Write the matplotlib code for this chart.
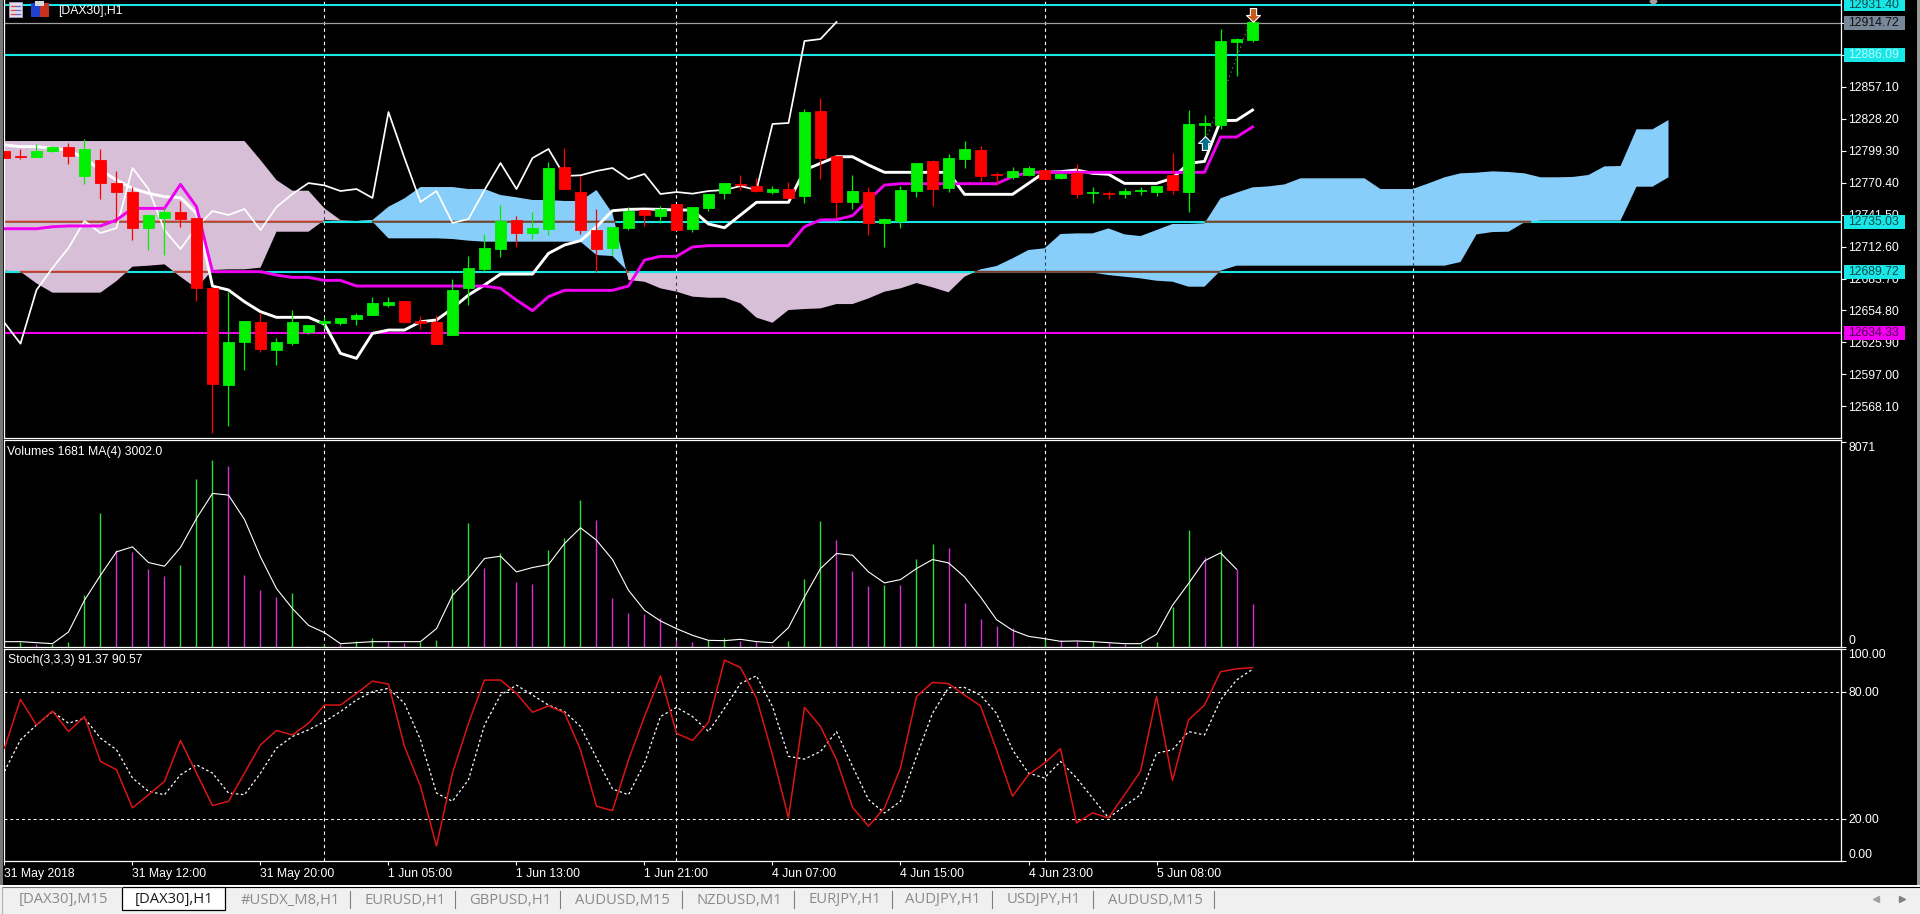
import numpy as np
import matplotlib
matplotlib.use("Agg")
import matplotlib.pyplot as plt
from matplotlib.patches import Rectangle
from matplotlib.path import Path

opens = [12799.0, 12794.1, 12793.8, 12799.3, 12802.6, 12776.7, 12790.5, 12770.0, 12761.9, 12729.6,
         12738.4, 12743.8, 12738.4, 12674.8, 12587.4, 12626.6, 12644.3, 12619.0, 12625.7, 12635.3,
         12643.7, 12643.4, 12646.8, 12650.7, 12659.7, 12663.3, 12645.3, 12644.3, 12632.9, 12675.4,
         12692.3, 12710.4, 12736.6, 12724.8, 12728.4, 12784.5, 12761.9, 12727.5, 12711.3, 12729.3,
         12745.6, 12740.2, 12751.0, 12728.4, 12747.4, 12761.0, 12768.8, 12767.3, 12762.2, 12764.6,
         12758.3, 12835.1, 12794.4, 12752.9, 12761.9, 12733.9, 12735.7, 12762.8, 12789.9, 12765.5,
         12791.7, 12799.9, 12777.9, 12775.5, 12777.3, 12781.8, 12774.6, 12779.1, 12761.0, 12761.3,
         12760.1, 12762.8, 12761.9, 12777.3, 12761.9, 12822.5, 12822.5, 12897.5, 12899.3]
highs = [12799.0, 12800.5, 12805.0, 12803.8, 12805.9, 12809.5, 12800.8, 12780.9, 12766.1, 12741.1,
         12747.1, 12753.8, 12738.4, 12674.8, 12671.8, 12645.0, 12652.8, 12629.6, 12655.2, 12641.6,
         12649.2, 12648.3, 12652.2, 12666.6, 12666.6, 12663.3, 12649.8, 12650.7, 12682.9, 12704.0,
         12723.9, 12750.1, 12740.2, 12744.1, 12788.7, 12801.7, 12776.4, 12746.5, 12730.2, 12748.6,
         12745.6, 12749.2, 12751.0, 12748.3, 12760.1, 12770.0, 12777.3, 12774.2, 12767.3, 12770.9,
         12836.9, 12846.9, 12794.4, 12777.3, 12766.4, 12738.4, 12767.3, 12788.1, 12790.8, 12796.3,
         12808.0, 12803.5, 12780.0, 12784.5, 12785.4, 12781.8, 12778.8, 12787.2, 12766.4, 12762.8,
         12765.5, 12766.4, 12767.3, 12796.9, 12836.0, 12831.5, 12909.3, 12901.1, 12926.5]
lows = [12792.9, 12792.0, 12793.5, 12798.1, 12787.2, 12769.4, 12755.6, 12736.6, 12718.8, 12709.5,
        12704.9, 12730.5, 12663.3, 12544.3, 12550.6, 12601.2, 12617.5, 12605.5, 12623.3, 12633.2,
        12638.6, 12641.6, 12641.6, 12650.7, 12658.2, 12643.7, 12637.7, 12624.8, 12632.9, 12659.7,
        12689.9, 12703.1, 12712.2, 12719.4, 12723.0, 12764.6, 12723.9, 12689.6, 12704.9, 12727.5,
        12731.2, 12733.6, 12727.5, 12726.0, 12744.7, 12755.6, 12763.7, 12762.2, 12760.1, 12756.5,
        12752.0, 12773.6, 12738.4, 12746.5, 12723.0, 12712.2, 12729.3, 12757.4, 12749.2, 12761.9,
        12783.6, 12771.8, 12768.2, 12773.6, 12776.4, 12773.6, 12773.6, 12756.5, 12752.0, 12755.6,
        12756.5, 12759.2, 12758.3, 12760.1, 12743.8, 12805.9, 12818.9, 12866.8, 12897.5]
closes = [12792.9, 12793.8, 12799.0, 12802.6, 12794.4, 12800.5, 12770.3, 12762.2, 12729.6, 12741.1,
          12743.8, 12737.5, 12674.8, 12588.3, 12626.3, 12645.0, 12619.9, 12626.3, 12644.3, 12641.6,
          12645.0, 12648.0, 12650.7, 12661.5, 12662.4, 12644.6, 12643.7, 12624.8, 12673.3, 12693.2,
          12711.3, 12735.7, 12724.8, 12729.3, 12783.6, 12764.6, 12727.5, 12710.4, 12730.2, 12744.7,
          12741.1, 12746.5, 12727.5, 12748.3, 12760.1, 12770.0, 12767.9, 12762.8, 12764.6, 12756.5,
          12834.2, 12792.6, 12752.9, 12762.8, 12733.9, 12737.5, 12763.7, 12788.1, 12764.6, 12792.6,
          12800.8, 12776.4, 12777.0, 12780.9, 12783.6, 12773.6, 12778.2, 12760.1, 12761.9, 12760.4,
          12762.8, 12763.7, 12767.3, 12763.7, 12823.4, 12824.3, 12898.4, 12900.2, 12915.6]

tenkan = [12804.4, 12802.9, 12802.9, 12801.4, 12799.9, 12792.3, 12781.8, 12772.7, 12765.2, 12760.7,
          12757.7, 12756.8, 12742.6, 12676.9, 12673.3, 12662.7, 12653.7, 12648.6, 12648.6, 12648.6,
          12642.5, 12616.0, 12611.5, 12634.1, 12637.1, 12637.1, 12644.6, 12646.2, 12656.7, 12668.8,
          12677.8, 12687.7, 12687.7, 12687.7, 12706.4, 12714.0, 12717.9, 12730.5, 12745.0, 12746.2,
          12746.5, 12746.2, 12745.6, 12745.6, 12733.0, 12729.6, 12741.1, 12752.6, 12752.6, 12752.6,
          12781.8, 12787.8, 12793.8, 12793.8, 12786.3, 12779.7, 12779.7, 12779.7, 12779.7, 12779.7,
          12759.8, 12759.8, 12759.8, 12759.8, 12769.7, 12779.7, 12780.3, 12781.8, 12778.8, 12777.9,
          12769.7, 12769.7, 12769.7, 12774.3, 12787.8, 12789.6, 12826.4, 12826.7, 12836.0]
kijun = [12728.7, 12728.7, 12728.7, 12730.5, 12731.2, 12731.2, 12731.2, 12736.6, 12747.1, 12747.1,
         12747.1, 12768.8, 12748.6, 12689.9, 12689.9, 12689.9, 12689.9, 12686.8, 12684.7, 12684.7,
         12682.0, 12682.0, 12676.9, 12676.9, 12676.9, 12676.9, 12676.9, 12676.9, 12676.9, 12676.9,
         12676.9, 12674.8, 12664.2, 12654.6, 12667.3, 12673.0, 12673.0, 12673.0, 12673.0, 12676.9,
         12700.4, 12703.7, 12703.7, 12712.2, 12713.4, 12713.4, 12713.4, 12713.4, 12713.4, 12713.4,
         12730.5, 12736.6, 12736.9, 12740.5, 12754.7, 12768.2, 12769.4, 12769.4, 12769.4, 12769.4,
         12769.4, 12769.4, 12769.4, 12775.8, 12779.7, 12779.7, 12779.7, 12779.7, 12779.7, 12779.7,
         12779.7, 12779.7, 12779.7, 12779.7, 12779.7, 12779.7, 12811.6, 12811.6, 12820.7]

span_a = [12690.8, 12689.9, 12679.3, 12670.9, 12670.9, 12670.9, 12670.9, 12681.4, 12694.4, 12695.3,
          12696.5, 12685.3, 12674.8, 12691.4, 12692.0, 12692.0, 12693.5, 12726.0, 12726.0, 12726.0,
          12736.6, 12736.0, 12736.0, 12736.6, 12748.6, 12756.2, 12766.4, 12766.4, 12766.4, 12764.6,
          12764.6, 12759.2, 12757.1, 12754.7, 12754.7, 12753.8, 12753.8, 12763.7, 12742.6, 12682.3,
          12680.8, 12674.8, 12671.8, 12667.3, 12666.3, 12666.3, 12661.2, 12648.3, 12643.7, 12655.2,
          12656.1, 12656.7, 12660.6, 12660.6, 12665.7, 12671.8, 12674.8, 12679.6, 12675.7, 12671.2,
          12685.3, 12692.0, 12695.0, 12701.9, 12709.5, 12711.0, 12723.9, 12724.5, 12724.5, 12729.0,
          12723.6, 12722.1, 12727.5, 12733.0, 12733.0, 12733.6, 12756.2, 12761.3, 12766.1, 12767.0,
          12768.8, 12774.3, 12774.3, 12774.3, 12774.3, 12774.3, 12764.6, 12764.6, 12764.6, 12769.7,
          12775.2, 12778.8, 12779.4, 12780.6, 12780.0, 12778.8, 12775.2, 12775.2, 12775.5, 12777.3,
          12785.1, 12785.4, 12818.6, 12818.6, 12827.0]
span_b = ([12808.0] * 16 + [12790.8, 12772.7, 12763.1, 12763.1, 12747.1, 12736.6, 12736.0, 12735.1]
          + [12720.0] * 4 + [12719.4, 12717.9] + [12717.0] * 7 + [12704.9, 12704.0]
          + [12689.6] * 29 + [12689.0, 12686.8, 12685.3, 12683.8, 12681.7, 12680.8, 12676.3, 12676.3, 12690.8]
          + [12695.3] * 14 + [12698.6, 12723.6, 12725.7, 12726.0, 12734.5]
          + [12736.0] * 6 + [12766.7, 12766.7, 12775.2])

volumes = [26, 197, 105, 131, 184, 2034, 5248, 3805, 3739, 3083, 2795, 3214, 6599, 7347, 7124, 2821,
           2230, 1968, 2112, 26, 131, 131, 223, 341, 197, 157, 197, 262, 2270, 4881, 3109, 3713,
           2558, 2467, 3805, 4277, 5773, 4986, 1929, 1338, 1286, 1155, 262, 184, 262, 367, 236, 197,
           66, 236, 2663, 4946, 4198, 2978, 2401, 2427, 2427, 3451, 4067, 3884, 1732, 1089, 827, 748,
           26, 328, 289, 236, 249, 157, 118, 131, 184, 1574, 4592, 3529, 3805, 3083, 1679]
volume_ma = [210, 210, 171, 131, 590, 1837, 2821, 3739, 3936, 3319, 3175, 3910, 5051, 6035, 5970, 5012,
             3542, 2296, 1509, 853, 564, 131, 171, 210, 210, 210, 210, 722, 2034, 2690, 3477, 3569,
             2952, 3123, 3241, 4067, 4684, 4198, 3437, 2230, 1443, 1023, 722, 459, 262, 249, 302, 210,
             171, 761, 1968, 3083, 3674, 3608, 2952, 2519, 2650, 3083, 3437, 3306, 2755, 1968, 1076, 656,
             420, 328, 223, 236, 210, 171, 131, 131, 499, 1640, 2493, 3385, 3700, 3057]

stoch_main = [53.4, 76.4, 64.3, 70.9, 61.2, 68.3, 47.1, 43.2, 25.2, 31.4, 37.7, 57.0, 41.6, 26.3, 28.3, 41.6,
              54.9, 61.7, 59.6, 65.1, 73.7, 73.7, 79.2, 85.0, 83.6, 54.2, 35.4, 7.2, 41.6, 65.1, 85.5, 85.5,
              79.2, 70.3, 73.3, 70.1, 52.6, 26.0, 23.9, 47.9, 68.3, 87.4, 60.4, 57.0, 65.6, 94.9, 91.4, 76.9,
              50.2, 20.5, 72.6, 63.6, 47.9, 25.5, 16.6, 25.2, 44.0, 77.7, 84.4, 83.8, 78.4, 73.3, 52.6, 30.7,
              40.8, 46.3, 53.1, 18.1, 22.8, 20.5, 31.4, 42.4, 77.7, 38.2, 66.7, 73.7, 89.4, 90.8, 91.37]
stoch_signal = [42.4, 57.3, 64.3, 70.6, 65.1, 67.5, 58.1, 52.6, 39.3, 33.0, 31.4, 40.8, 45.5, 41.6, 32.2, 31.4,
                41.6, 53.4, 58.9, 62.0, 65.9, 70.6, 76.1, 80.0, 81.6, 74.5, 57.3, 32.2, 28.3, 38.5, 64.3, 78.4,
                83.1, 78.4, 73.7, 70.6, 63.6, 48.7, 34.1, 31.4, 46.3, 68.3, 72.6, 68.3, 61.2, 72.2, 83.9, 87.5,
                73.0, 49.5, 48.2, 51.8, 61.2, 44.8, 29.1, 22.8, 28.3, 49.5, 69.8, 81.9, 82.0, 78.4, 69.8, 52.6,
                41.6, 39.3, 47.1, 39.3, 29.9, 20.5, 26.0, 31.4, 51.0, 52.6, 61.2, 59.6, 76.1, 85.5, 90.57]

date_labels = ["31 May 2018", "31 May 12:00", "31 May 20:00", "1 Jun 05:00", "1 Jun 13:00",
               "1 Jun 21:00", "4 Jun 07:00", "4 Jun 15:00", "4 Jun 23:00", "5 Jun 08:00"]
price_ticks = [12568.10, 12597.00, 12625.90, 12654.80, 12683.70, 12712.60, 12741.50, 12770.40,
               12799.30, 12828.20, 12857.10, 12886.00, 12914.90]
cyan_levels = [12931.40, 12886.09, 12735.03, 12689.72]
magenta_level = 12634.33
bid_level = 12914.72
separator_bars = [20, 42, 65, 88]
buy_arrow = (75, 12805.9)
sell_arrow = (78, 12921.9)
tab_names = ["[DAX30],M15", "[DAX30],H1", "#USDX_M8,H1", "EURUSD,H1", "GBPUSD,H1", "AUDUSD,M15",
             "NZDUSD,M1", "EURJPY,H1", "AUDJPY,H1", "USDJPY,H1", "AUDUSD,M15"]
tab_starts = [19, 135, 241, 364, 469, 575, 696, 808, 905, 1007, 1108]
tab_seps = [350, 455, 560, 682, 794, 892, 992, 1093, 1214]

W, H = 1920, 914
FONT = "Liberation Sans"
CYAN = "#19e6e6"
GREEN = "#00f000"
RED = "#ff0000"
PINK_CLOUD = "#d8bfd8"
BLUE_CLOUD = "#87cefa"
MAGENTA = "#f000f0"
DASHES = (0, (3, 3))


def px_axes(x0, y0, x1, y1):
    ax = fig.add_axes([x0 / W, 1 - y1 / H, (x1 - x0) / W, (y1 - y0) / H])
    ax.set_facecolor("black")
    ax.set_xlim(-0.03, 114.78)
    ax.yaxis.tick_right()
    ax.set_xticks([])
    for side in ["left", "right", "bottom", "top"]:
        ax.spines[side].set_color("white")
        ax.spines[side].set_linewidth(0.9)
    ax.tick_params(axis="y", colors="white", length=3.6, width=0.8, pad=1.5, labelsize=8.8)
    for bar in separator_bars:
        ax.axvline(bar, color="white", lw=0.8, ls=DASHES, zorder=0.5)
    return ax


fig = plt.figure(figsize=(W / 100, H / 100), dpi=100, facecolor="black")
plt.rcParams["font.family"] = FONT

# main price panel
ax = px_axes(4, 0, 1841, 438)
ax.spines["top"].set_visible(False)
ax.set_ylim(12539.5, 12935.5)
bars = np.arange(len(closes))
cloud_x = np.arange(len(span_a))
a = np.array(span_a)
b = np.array(span_b)
ax.fill_between(cloud_x, a, b, where=a >= b, interpolate=True, color=BLUE_CLOUD, lw=0, zorder=1)
ax.fill_between(cloud_x, a, b, where=a <= b, interpolate=True, color=PINK_CLOUD, lw=0, zorder=1)

# separators turn dark where they run over the cloud
for bar in separator_bars:
    ax.plot([bar, bar], [min(a[bar], b[bar]) if bar < len(a) else 0, max(a[bar], b[bar]) if bar < len(a) else 0],
            color="#3a3a50", lw=0.8, ls=DASHES, zorder=1.5)

for level in cyan_levels:
    ax.axhline(level, color=CYAN, lw=1.5, zorder=2)
ax.axhline(magenta_level, color=MAGENTA, lw=1.5, zorder=2)
ax.axhline(bid_level, color="#a0a0a0", lw=0.9, zorder=2)

# the levels change colour where they cross the cloud
grid = np.linspace(0, cloud_x[-1], 4161)
grid_a = np.interp(grid, cloud_x, a)
grid_b = np.interp(grid, cloud_x, b)
for level in cyan_levels[2:]:
    in_pink = (grid_a <= level) & (level <= grid_b)
    in_blue = (grid_b <= level) & (level <= grid_a)
    ax.plot(grid, np.where(in_pink, level, np.nan), color="#c83c28", lw=1.5, zorder=2.1)
    ax.plot(grid, np.where(in_blue, level, np.nan), color="#7d3c28", lw=1.5, zorder=2.1)

# chikou is the close moved 26 bars back
ax.plot(bars[:-26], closes[26:], color="white", lw=1.25, zorder=3)
ax.plot(bars, tenkan, color="white", lw=2.1, zorder=3)
ax.plot(bars, kijun, color=MAGENTA, lw=2.1, zorder=3.1)
ax.plot([buy_arrow[0], sell_arrow[0]], [buy_arrow[1], sell_arrow[1]], color="#6ea06e", lw=0.8,
        ls=(0, (1, 3)), zorder=3.2)

for i in bars:
    col = GREEN if closes[i] >= opens[i] else RED
    ax.plot([i, i], [lows[i], highs[i]], color=col, lw=0.9, zorder=4, solid_capstyle="butt")
    ax.bar(i, abs(closes[i] - opens[i]), 0.69, min(opens[i], closes[i]), color=col, lw=0.6, edgecolor=col, zorder=4.1)

up_marker = Path([(-1, 0), (0, 1), (1, 0), (0.45, 0), (0.45, -1), (-0.45, -1), (-0.45, 0), (-1, 0)], closed=True)
down_marker = Path([(-1, 0), (0, -1), (1, 0), (0.45, 0), (0.45, 1), (-0.45, 1), (-0.45, 0), (-1, 0)], closed=True)
ax.plot(*buy_arrow, marker=up_marker, ms=10, mfc="#00708c", mec="white", mew=0.8, zorder=5)
ax.plot(*sell_arrow, marker=down_marker, ms=10, mfc="#c85a1e", mec="white", mew=0.8, zorder=5)
ax.plot(103, 12935.0, marker="D", ms=3.5, color="#a0a0a0", clip_on=False, zorder=5)

ax.set_yticks(price_ticks)
ax.set_yticklabels([f"{p:.2f}" for p in price_ticks])
label_styles = [(12931.40, CYAN, "#0a4a4a"), (bid_level, "#778899", "#101010"), (12886.09, CYAN, "#b0ffff"),
                (12735.03, CYAN, "#0a4a4a"), (12689.72, CYAN, "#0a4a4a"), (magenta_level, MAGENTA, "#500050")]
ytrans = ax.get_yaxis_transform()
for level, bg, fg in label_styles:
    ax.add_patch(Rectangle((1.0016, level - 6.2), 0.0332, 12.4, transform=ytrans, fc=bg, ec="none",
                           clip_on=False, zorder=9))
    ax.text(1.0038, level, f"{level:.2f}", transform=ytrans, color=fg, fontsize=8.8,
            va="center", ha="left", zorder=10, clip_on=False)
ax.text(0.0296, 1 - 11 / 438, "[DAX30],H1", transform=ax.transAxes, color="white", fontsize=8.8, va="center", zorder=6)

# volumes panel
ax2 = px_axes(4, 440, 1841, 647)
ax2.set_ylim(0, 8135)
for i in bars:
    col = "#32dc32" if i > 0 and volumes[i] > volumes[i - 1] else "#d232d2"
    ax2.vlines(i, 0, volumes[i], color=col, lw=1.0, zorder=2)
ax2.plot(np.arange(len(volume_ma)), volume_ma, color="white", lw=0.8, zorder=4)
ax2.set_yticks([0, 8071])
ax2.set_yticklabels(["0", "8071"])
ax2.get_yticklabels()[0].set_verticalalignment("bottom")
ax2.get_yticklabels()[1].set_verticalalignment("top")
ax2.text(0.0017, 1 - 12 / 207, "Volumes 1681 MA(4) 3002.0", transform=ax2.transAxes, color="white", fontsize=8.8, va="center")

# stochastic panel
ax3 = px_axes(4, 649.3, 1841, 861.3)
ax3.set_ylim(0, 100)
ax3.axhline(80, color="white", lw=0.7, ls=DASHES, zorder=1)
ax3.axhline(20, color="white", lw=0.7, ls=DASHES, zorder=1)
ax3.plot(bars, stoch_signal, color="white", lw=0.9, ls=(0, (2, 2)), zorder=3)
ax3.plot(bars, stoch_main, color="#dc1414", lw=1.1, zorder=4)
ax3.set_yticks([0, 20, 80, 100])
ax3.set_yticklabels(["0.00", "20.00", "80.00", "100.00"])
ax3.get_yticklabels()[0].set_verticalalignment("bottom")
ax3.get_yticklabels()[3].set_verticalalignment("top")
ax3.set_xticks(np.arange(len(date_labels)) * 8)
ax3.set_xticklabels(date_labels, ha="left", color="white", fontsize=8.8)
ax3.tick_params(axis="x", colors="white", length=3, width=0.8, pad=1.5)
ax3.text(0.0022, 1 - 11 / 212, "Stoch(3,3,3) 91.37 90.57", transform=ax3.transAxes, color="white", fontsize=8.8, va="center")

# window chrome: tab bar, border, icons
chrome = fig.add_axes([0, 0, 1, 1], zorder=20)
chrome.set_xlim(0, W)
chrome.set_ylim(H, 0)
chrome.axis("off")
chrome.add_patch(Rectangle((0, 0), 3, 887, fc="#787878", ec="none"))
chrome.add_patch(Rectangle((1917, 0), 3, 887, fc="#9a9a9a", ec="none"))
chrome.add_patch(Rectangle((0, 885), W, 2, fc="white", ec="none"))
chrome.add_patch(Rectangle((0, 887), W, 27, fc="#f0f0f0", ec="none"))
chrome.add_patch(Rectangle((122, 887), 103, 23, fc="white", ec="black", lw=0.9))
chrome.plot([2, 122], [887, 887], color="#707070", lw=0.8)
chrome.plot([225, W], [887, 887], color="black", lw=0.8)
chrome.plot([2, 2], [887, 913], color="#b0b0b0", lw=0.8)
for sx in tab_seps:
    chrome.plot([sx, sx], [891, 908], color="#808080", lw=0.8)
for k, (name, start) in enumerate(zip(tab_names, tab_starts)):
    chrome.text(start, 900, name, family="Open Sans", fontsize=10.6, va="center", ha="left",
                color="#1a1a1a" if k == 1 else "#8a8a8a")
chrome.plot(1876, 899, marker="<", ms=5, color="#a0a0a0")
chrome.plot(1902, 899, marker=">", ms=5, color="#808080")
chrome.add_patch(Rectangle((9, 2), 13, 15, fc="#e8e0e8", ec="#9aa0c0", lw=0.7))
for row in [6, 10, 14]:
    chrome.plot([11, 15], [row, row], color="#d85050", lw=1.0)
    chrome.plot([16, 20], [row, row], color="#6070d0", lw=1.0)
chrome.add_patch(Rectangle((31, 3), 9, 14, fc="#2040d0", ec="none"))
chrome.add_patch(Rectangle((40, 3), 9, 14, fc="#c83020", ec="none"))
chrome.add_patch(Rectangle((35, 1), 9, 5, fc="#d8d8d8", ec="none"))

fig.savefig("out.png", dpi=100, facecolor="black")
